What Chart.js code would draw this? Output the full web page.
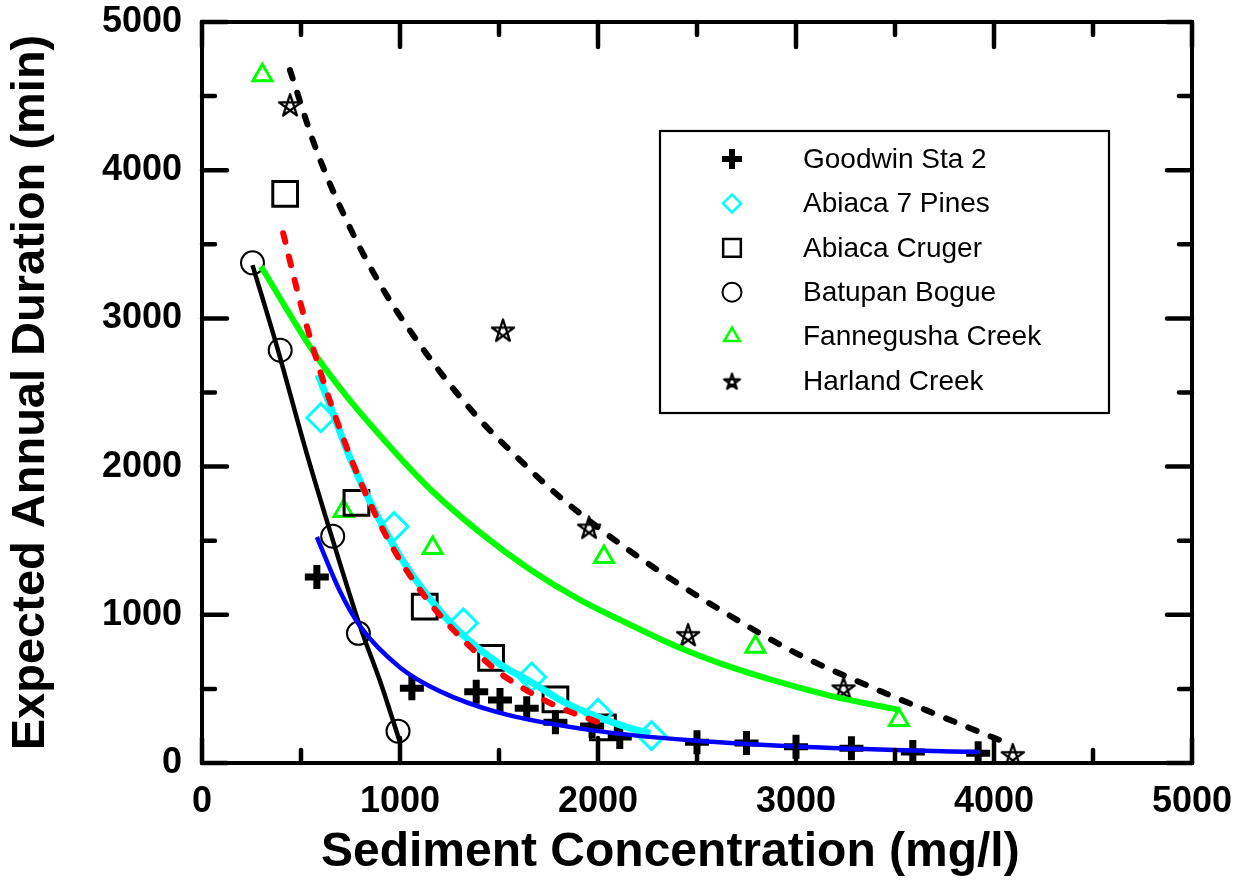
<!DOCTYPE html>
<html>
<head>
<meta charset="utf-8">
<title>Expected Annual Duration vs Sediment Concentration</title>
<script src="https://cdn.jsdelivr.net/npm/chart.js@4"></script>
<style>
  html, body { margin: 0; padding: 0; background: #fff; }
  #wrap { width: 1245px; height: 882px; }
</style>
</head>
<body>
<div id="wrap"><canvas id="chart" width="1245" height="882"></canvas></div>
<script>
// ---------- data ----------
const xTicks = [0, 1000, 2000, 3000, 4000, 5000];
const yTicks = [0, 1000, 2000, 3000, 4000, 5000];

const seriesNames = ['Goodwin Sta 2', 'Abiaca 7 Pines', 'Abiaca Cruger',
                     'Batupan Bogue', 'Fannegusha Creek', 'Harland Creek'];

// measured points
const goodwinX = [580, 1060, 1385, 1505, 1640, 1785, 1970, 2110, 2500, 2750, 3000, 3280, 3590, 3920];
const goodwinY = [1255, 505, 480, 425, 370, 275, 250, 175, 140, 135, 110, 100, 75, 65];
const pinesX   = [600, 970, 1320, 1665, 2000, 2270];
const pinesY   = [2330, 1595, 945, 580, 335, 185];
const crugerX  = [420, 780, 1125, 1460, 1785, 2025];
const crugerY  = [3840, 1755, 1055, 710, 430, 240];
const batupanX = [255, 395, 660, 790, 990];
const batupanY = [3375, 2785, 1530, 875, 215];
const fanneX   = [305, 715, 1165, 2030, 2795, 3520];
const fanneY   = [4640, 1700, 1450, 1390, 785, 290];
const harlandX = [445, 1520, 1955, 2455, 3240, 4095];
const harlandY = [4440, 2920, 1590, 865, 505, 55];

// fitted curves
const goodwinFitX = [580, 700, 800, 1000, 1200, 1500, 2000, 2500, 3000, 3500, 3930];
const goodwinFitY = [1525, 1150, 920, 645, 485, 340, 215, 150, 112, 88, 74];
const pinesFitX   = [586, 650, 750, 850, 1000, 1150, 1300, 1500, 1670, 1830, 2000, 2160, 2265];
const pinesFitY   = [2620, 2400, 2050, 1760, 1395, 1110, 885, 670, 540, 410, 310, 236, 200];
const crugerFitX  = [410, 500, 600, 700, 800, 900, 1000, 1100, 1200, 1350, 1500, 1650, 1800, 2000];
const crugerFitY  = [3575, 3090, 2630, 2240, 1900, 1610, 1370, 1170, 1000, 790, 612, 482, 378, 276];
const batupanFitX = [255, 385, 520, 650, 800, 900, 1000];
const batupanFitY = [3360, 2780, 2130, 1550, 915, 550, 140];
const fanneFitX   = [298, 560, 730, 1000, 1165, 1400, 1655, 1900, 2160, 2400, 2665, 2900, 3170, 3400, 3525];
const fanneFitY   = [3350, 2780, 2475, 2060, 1832, 1560, 1308, 1108, 935, 785, 650, 552, 455, 390, 358];
const harlandFitX = [444, 580, 750, 915, 1165, 1390, 1590, 1760, 2000, 2330, 2665, 3005, 3370, 3660, 4000, 4066];
const harlandFitY = [4676, 4128, 3605, 3195, 2705, 2336, 2065, 1850, 1589, 1276, 995, 738, 517, 355, 170, 135];

// ---------- helpers ----------
function pts(xs, ys) {
  return xs.map((x, i) => ({ x: x, y: ys[i] }));
}

// pentagram marker (Chart.js 'star' is an asterisk, so build our own)
function makeStar(size, lw) {
  const c = document.createElement('canvas');
  c.width = size; c.height = size;
  const g = c.getContext('2d');
  const r = size / 2 - lw;
  const cx = size / 2, cy = size / 2 + 1;
  g.strokeStyle = '#000';
  g.lineWidth = lw;
  g.lineJoin = 'round';
  g.beginPath();
  for (let k = 0; k <= 5; k++) {
    const a = -Math.PI / 2 + k * 4 * Math.PI / 5;
    const px = cx + r * Math.cos(a), py = cy + r * Math.sin(a);
    if (k === 0) g.moveTo(px, py); else g.lineTo(px, py);
  }
  g.closePath();
  g.stroke();
  return c;
}
const starBig = makeStar(28, 2.3);
const starSmall = makeStar(21, 2.1);

Chart.defaults.font.family = "'Liberation Sans', Arial, Helvetica, sans-serif";
Chart.defaults.color = '#000';

// marker styles, shared by plot and legend
const markerStyles = [
  { pointStyle: 'cross',    color: '#000000', radius: 12, lw: 7,   legendRadius: 10, legendLw: 6 },
  { pointStyle: 'rectRot',  color: '#00ffff', radius: 14, lw: 3,   legendRadius: 9,  legendLw: 2.5 },
  { pointStyle: 'rect',     color: '#000000', radius: 17.5, lw: 3, legendRadius: 12.5, legendLw: 2.5 },
  { pointStyle: 'circle',   color: '#000000', radius: 11.5, lw: 2, legendRadius: 9.5, legendLw: 2 },
  { pointStyle: 'triangle', color: '#00ff00', radius: 11, lw: 3,   legendRadius: 9,  legendLw: 2.5 },
  { pointStyle: starBig,    color: '#000000', radius: 12, lw: 2,   legendRadius: 10, legendLw: 2, legendStyle: starSmall }
];

const pointSets = [
  pts(goodwinX, goodwinY), pts(pinesX, pinesY), pts(crugerX, crugerY),
  pts(batupanX, batupanY), pts(fanneX, fanneY), pts(harlandX, harlandY)
];

const datasets = [];

// fitted lines
function fitLine(xs, ys, color, width, dash, order) {
  return {
    label: '',
    data: pts(xs, ys),
    showLine: true,
    borderColor: color,
    borderWidth: width,
    borderDash: dash,
    borderCapStyle: dash.length ? 'round' : 'butt',
    pointRadius: 0,
    pointHoverRadius: 0,
    cubicInterpolationMode: 'monotone',
    fill: false,
    order: order
  };
}
datasets.push(fitLine(pinesFitX, pinesFitY, '#00ffff', 7, [], 15));
datasets.push(fitLine(fanneFitX, fanneFitY, '#00ff00', 6, [], 14));
datasets.push(fitLine(batupanFitX, batupanFitY, '#000000', 4.5, [], 13));
datasets.push(fitLine(goodwinFitX, goodwinFitY, '#0000ff', 4.5, [], 12));
datasets.push(fitLine(crugerFitX, crugerFitY, '#ff0000', 6, [9, 15], 11));
datasets.push(fitLine(harlandFitX, harlandFitY, '#000000', 6, [9, 15], 10));

// markers
seriesNames.forEach((name, i) => {
  const m = markerStyles[i];
  datasets.push({
    label: name,
    data: pointSets[i],
    showLine: false,
    pointStyle: m.pointStyle,
    pointRadius: m.radius,
    pointHoverRadius: m.radius,
    pointBorderWidth: m.lw,
    pointBorderColor: m.color,
    pointBackgroundColor: 'rgba(0,0,0,0)',
    order: 20
  });
});

// ---------- plugins ----------
// frame with inward ticks on all four sides
const framePlugin = {
  id: 'frameTicks',
  afterDatasetsDraw(chart) {
    const { ctx, chartArea: a, scales } = chart;
    ctx.save();
    ctx.strokeStyle = '#000';
    ctx.lineCap = 'round';
    ctx.lineWidth = 4.5;
    for (let v = 0; v <= 5000; v += 500) {
      const len = (v % 1000 === 0) ? 25 : 13;
      const px = scales.x.getPixelForValue(v);
      const py = scales.y.getPixelForValue(v);
      ctx.beginPath();
      ctx.moveTo(px, a.bottom); ctx.lineTo(px, a.bottom - len);
      ctx.moveTo(px, a.top);    ctx.lineTo(px, a.top + len);
      ctx.moveTo(a.left, py);   ctx.lineTo(a.left + len, py);
      ctx.moveTo(a.right, py);  ctx.lineTo(a.right - len, py);
      ctx.stroke();
    }
    ctx.lineCap = 'square';
    ctx.lineWidth = 4;
    ctx.strokeRect(a.left, a.top, a.right - a.left, a.bottom - a.top);
    ctx.restore();
  }
};

// legend box inside the plot, upper right
const boxLegend = {
  id: 'boxLegend',
  afterDatasetsDraw(chart) {
    const ctx = chart.ctx;
    const bx = 660, by = 131, bw = 449, bh = 282;
    const rowH = 44.4, firstRow = 159, markX = 732, textX = 803;
    ctx.save();
    ctx.fillStyle = '#fff';
    ctx.fillRect(bx, by, bw, bh);
    ctx.strokeStyle = '#000';
    ctx.lineWidth = 2.2;
    ctx.strokeRect(bx, by, bw, bh);
    ctx.font = "28px 'Liberation Sans', Arial, sans-serif";
    ctx.textBaseline = 'middle';
    ctx.textAlign = 'left';
    seriesNames.forEach((name, i) => {
      const m = markerStyles[i];
      const y = firstRow + i * rowH;
      ctx.strokeStyle = m.color;
      ctx.fillStyle = 'rgba(0,0,0,0)';
      ctx.lineWidth = m.legendLw;
      Chart.helpers.drawPoint(ctx, {
        pointStyle: m.legendStyle || m.pointStyle,
        radius: m.legendRadius,
        rotation: 0,
        borderWidth: m.legendLw
      }, markX, y);
      ctx.fillStyle = '#000';
      ctx.fillText(name, textX, y + 1);
    });
    ctx.restore();
  }
};

// invisible tick marks are used only to push labels off the axis
// (ticks.padding would also inflate the layout padding)
const hiddenTicks = (len) => ({
  display: true,
  drawOnChartArea: false,
  drawTicks: true,
  tickLength: len,
  color: 'rgba(0,0,0,0)'
});

// ---------- chart ----------
new Chart(document.getElementById('chart').getContext('2d'), {
  type: 'scatter',
  data: { datasets: datasets },
  options: {
    responsive: false,
    animation: false,
    events: [],
    layout: { padding: { top: 22, right: 53, left: 0, bottom: 0 } },
    plugins: {
      legend: { display: false },
      tooltip: { enabled: false },
      title: { display: false }
    },
    scales: {
      x: {
        type: 'linear',
        min: 0, max: 5000,
        afterFit: (s) => { s.height = 119; },
        afterBuildTicks: (s) => { s.ticks = xTicks.map(v => ({ value: v })); },
        grid: hiddenTicks(17),
        border: { display: false },
        ticks: {
          padding: 0,
          maxRotation: 0,
          font: { size: 36, weight: 'bold' },
          color: '#000',
          callback: (v) => String(v)
        },
        title: {
          display: true,
          text: 'Sediment Concentration (mg/l)    ',
          font: { size: 48, weight: 'bold' },
          color: '#000',
          padding: { top: 0, bottom: 0 }
        }
      },
      y: {
        type: 'linear',
        min: 0, max: 5000,
        afterFit: (s) => { s.width = 202; },
        afterBuildTicks: (s) => { s.ticks = yTicks.map(v => ({ value: v })); },
        grid: hiddenTicks(20),
        border: { display: false },
        ticks: {
          padding: 0,
          font: { size: 36, weight: 'bold' },
          color: '#000',
          callback: (v) => String(v)
        },
        title: {
          display: true,
          text: 'Expected Annual Duration (min)',
          font: { size: 47, weight: 'bold' },
          color: '#000',
          padding: { top: 3, bottom: 0 }
        }
      }
    }
  },
  plugins: [framePlugin, boxLegend]
});
</script>
</body>
</html>
